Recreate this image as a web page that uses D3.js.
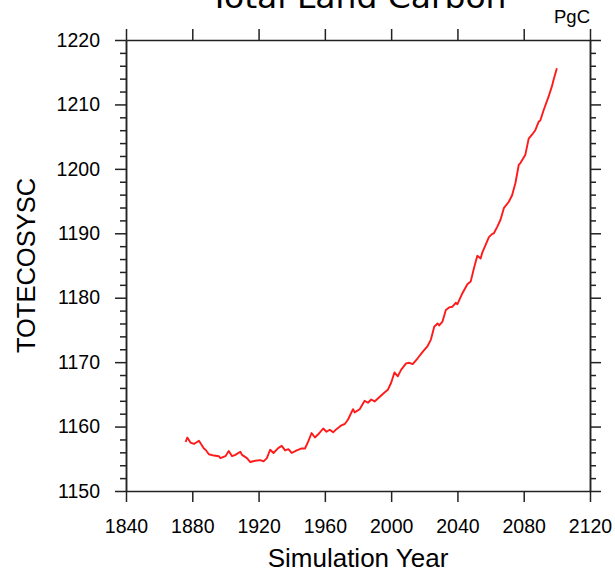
<!DOCTYPE html>
<html>
<head>
<meta charset="utf-8">
<script src="https://cdn.jsdelivr.net/npm/d3@7"></script>
<style>
  html, body { margin: 0; padding: 0; background: #fff; }
  svg { display: block; }
  text { font-family: "Liberation Sans", Arial, Helvetica, sans-serif; fill: #000; }
</style>
</head>
<body>
<svg id="chart" width="615" height="573"></svg>
<script>
// Total land carbon (TOTECOSYSC), PgC, by simulation year
const years = [
  1876, 1877, 1879, 1881, 1884, 1885, 1887, 1888, 1890, 1893, 1896, 1897, 1900, 1902, 1904, 1906,
  1909, 1910, 1913, 1915, 1918, 1921, 1923, 1925, 1927, 1929, 1932, 1934, 1936, 1938, 1940, 1943,
  1946, 1948, 1950, 1952, 1954, 1956, 1959, 1961, 1963, 1965, 1967, 1970, 1972, 1974, 1977, 1978,
  1981, 1984, 1986, 1988, 1990, 1993, 1996, 1998, 2000, 2002, 2004, 2006, 2009, 2011, 2013, 2016,
  2019, 2022, 2024, 2026, 2028, 2029, 2031, 2033, 2035, 2037, 2039, 2040, 2043, 2046, 2048, 2050,
  2052, 2054, 2055, 2057, 2059, 2061, 2062, 2064, 2066, 2068, 2071, 2073, 2075, 2077, 2078, 2081,
  2083, 2085, 2087, 2089, 2090, 2092, 2095, 2097, 2098, 2100
];
const totecosysc = [
  1157.6, 1158.3, 1157.5, 1157.3, 1157.8, 1157.4, 1156.6, 1156.4, 1155.7, 1155.5, 1155.4, 1155.1, 1155.4, 1156.2, 1155.4, 1155.6,
  1156.1, 1155.6, 1155.1, 1154.5, 1154.7, 1154.8, 1154.6, 1155.1, 1156.4, 1155.9, 1156.7, 1157.0, 1156.3, 1156.5, 1155.9, 1156.3,
  1156.6, 1156.6, 1157.7, 1159.0, 1158.3, 1158.8, 1159.7, 1159.2, 1159.5, 1159.1, 1159.6, 1160.2, 1160.4, 1161.1, 1162.7, 1162.2,
  1162.7, 1164.0, 1163.7, 1164.2, 1163.9, 1164.6, 1165.3, 1165.7, 1166.8, 1168.4, 1167.8, 1168.8, 1169.8, 1169.9, 1169.7, 1170.6,
  1171.6, 1172.5, 1173.5, 1175.5, 1176.0, 1175.7, 1176.3, 1178.1, 1178.5, 1178.6, 1179.2, 1179.0, 1180.7, 1182.1, 1182.5, 1184.6,
  1186.5, 1186.1, 1187.0, 1188.2, 1189.4, 1189.9, 1190.0, 1191.0, 1192.1, 1193.9, 1194.9, 1195.9, 1197.8, 1200.6, 1200.9, 1202.2,
  1204.7, 1205.3, 1206.0, 1207.3, 1207.5, 1209.1, 1211.2, 1212.8, 1213.8, 1215.6
];

const xTicks = [1840, 1880, 1920, 1960, 2000, 2040, 2080, 2120];
const yTicks = [1150, 1160, 1170, 1180, 1190, 1200, 1210, 1220];
const yMinorTicks = d3.range(1150, 1221, 2).filter(v => v % 10 !== 0);

const titleText = "Total Land Carbon";
const unitsText = "PgC";
const xTitle = "Simulation Year";
const yTitle = "TOTECOSYSC";

const frame = { left: 126, right: 590, top: 40, bottom: 491 };
const majorLen = 11, minorLen = 6;
const axisColor = "#222";

const svg = d3.select("#chart");

const x = d3.scaleLinear().domain([1840, 2120]).range([frame.left, frame.right]);
const y = d3.scaleLinear().domain([1150, 1220]).range([frame.bottom, frame.top]);

// data line
const data = years.map((yr, i) => ({ yr, v: totecosysc[i] }));
svg.append("path")
  .datum(data)
  .attr("fill", "none")
  .attr("stroke", "#ff1a1a")
  .attr("stroke-width", 1.9)
  .attr("stroke-linejoin", "round")
  .attr("d", d3.line().x(d => x(d.yr)).y(d => y(d.v)));

// frame axes with outward ticks on all four sides
function styleAxis(g) {
  g.select(".domain").attr("stroke", axisColor).attr("stroke-width", 1.5);
  g.selectAll(".tick line").attr("stroke", axisColor).attr("stroke-width", 1.5);
  g.selectAll("text").style("font-size", "19.5px").attr("fill", "#000");
}

svg.append("g")
  .attr("transform", `translate(0,${frame.bottom})`)
  .call(d3.axisBottom(x).tickValues(xTicks).tickFormat(d3.format("d"))
    .tickSizeInner(majorLen).tickSizeOuter(0).tickPadding(17))
  .call(styleAxis);

svg.append("g")
  .attr("transform", `translate(0,${frame.top})`)
  .call(d3.axisTop(x).tickValues(xTicks).tickFormat("").tickSizeInner(majorLen).tickSizeOuter(0))
  .call(styleAxis);

svg.append("g")
  .attr("transform", `translate(${frame.left},0)`)
  .call(d3.axisLeft(y).tickValues(yMinorTicks).tickFormat("").tickSizeInner(minorLen).tickSizeOuter(0))
  .call(styleAxis);
svg.append("g")
  .attr("transform", `translate(${frame.left},0)`)
  .call(d3.axisLeft(y).tickValues(yTicks).tickFormat(d3.format("d"))
    .tickSizeInner(majorLen).tickSizeOuter(0).tickPadding(15))
  .call(styleAxis);

svg.append("g")
  .attr("transform", `translate(${frame.right},0)`)
  .call(d3.axisRight(y).tickValues(yMinorTicks).tickFormat("").tickSizeInner(minorLen).tickSizeOuter(0))
  .call(styleAxis);
svg.append("g")
  .attr("transform", `translate(${frame.right},0)`)
  .call(d3.axisRight(y).tickValues(yTicks).tickFormat("").tickSizeInner(majorLen).tickSizeOuter(0))
  .call(styleAxis);

// titles
svg.append("text")
  .attr("x", (frame.left + frame.right) / 2)
  .attr("y", 8)
  .attr("text-anchor", "middle")
  .style("font-family", "'DejaVu Sans', sans-serif")
  .style("font-size", "30px")
  .attr("textLength", 297)
  .attr("lengthAdjust", "spacingAndGlyphs")
  .text(titleText);

svg.append("text")
  .attr("x", frame.right)
  .attr("y", 23)
  .attr("text-anchor", "end")
  .style("font-size", "18.5px")
  .text(unitsText);

svg.append("text")
  .attr("x", (frame.left + frame.right) / 2)
  .attr("y", 567)
  .attr("text-anchor", "middle")
  .style("font-size", "26px")
  .text(xTitle);

svg.append("text")
  .attr("transform", `translate(35,${(frame.top + frame.bottom) / 2}) rotate(-90)`)
  .attr("text-anchor", "middle")
  .style("font-size", "25.5px")
  .text(yTitle);
</script>
</body>
</html>
